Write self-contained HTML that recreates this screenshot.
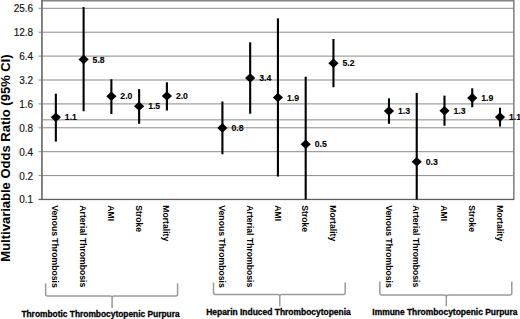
<!DOCTYPE html><html><head><meta charset="utf-8"><style>html,body{margin:0;padding:0;background:#fff;width:520px;height:319px;overflow:hidden}svg{display:block}text{font-family:"Liberation Sans",sans-serif}</style></head><body>
<svg width="520" height="319" viewBox="0 0 520 319">
<rect x="38.5" y="7.80" width="475.5" height="1" fill="#8a8a8a"/>
<rect x="38.5" y="31.70" width="475.5" height="1" fill="#8a8a8a"/>
<rect x="38.5" y="55.60" width="475.5" height="1" fill="#8a8a8a"/>
<rect x="38.5" y="79.50" width="475.5" height="1" fill="#8a8a8a"/>
<rect x="38.5" y="103.40" width="475.5" height="1" fill="#8a8a8a"/>
<rect x="38.5" y="127.30" width="475.5" height="1" fill="#8a8a8a"/>
<rect x="38.5" y="151.20" width="475.5" height="1" fill="#8a8a8a"/>
<rect x="38.5" y="175.10" width="475.5" height="1" fill="#8a8a8a"/>
<rect x="43" y="119.3" width="471" height="1.1" fill="#939393"/>
<rect x="42" y="0" width="472" height="1.5" fill="#858585"/>
<rect x="513" y="0" width="1.6" height="200" fill="#858585"/>
<rect x="41.1" y="0" width="1.7" height="200" fill="#6e6e6e"/>
<rect x="38.5" y="198.8" width="475.5" height="1.3" fill="#5e5e5e"/>
<rect x="54.80" y="93.7" width="2.1" height="47.90" fill="#000"/>
<polygon points="50.75,117.2 55.85,112.4 60.95,117.2 55.85,122.0" fill="#000"/>
<text x="64.85" y="120.30" font-size="8.7" font-weight="bold" fill="#000" stroke="#000" stroke-width="0.1">1.1</text>
<rect x="82.56" y="7.1" width="2.1" height="104.10" fill="#000"/>
<polygon points="78.51,59.4 83.61,54.6 88.71,59.4 83.61,64.2" fill="#000"/>
<text x="92.61" y="62.50" font-size="8.7" font-weight="bold" fill="#000" stroke="#000" stroke-width="0.1">5.8</text>
<rect x="110.32" y="79.2" width="2.1" height="34.80" fill="#000"/>
<polygon points="106.27,96.3 111.37,91.5 116.47,96.3 111.37,101.1" fill="#000"/>
<text x="120.37" y="99.40" font-size="8.7" font-weight="bold" fill="#000" stroke="#000" stroke-width="0.1">2.0</text>
<rect x="138.08" y="89.1" width="2.1" height="34.70" fill="#000"/>
<polygon points="134.03,106.2 139.13,101.4 144.23,106.2 139.13,111.0" fill="#000"/>
<text x="148.13" y="109.30" font-size="8.7" font-weight="bold" fill="#000" stroke="#000" stroke-width="0.1">1.5</text>
<rect x="165.84" y="82.3" width="2.1" height="28.20" fill="#000"/>
<polygon points="161.79,96.0 166.89,91.2 171.99,96.0 166.89,100.8" fill="#000"/>
<text x="175.89" y="99.10" font-size="8.7" font-weight="bold" fill="#000" stroke="#000" stroke-width="0.1">2.0</text>
<rect x="221.36" y="101.5" width="2.1" height="52.70" fill="#000"/>
<polygon points="217.31,127.9 222.41,123.10000000000001 227.51,127.9 222.41,132.70000000000002" fill="#000"/>
<text x="231.41" y="131.00" font-size="8.7" font-weight="bold" fill="#000" stroke="#000" stroke-width="0.1">0.8</text>
<rect x="249.12" y="42.3" width="2.1" height="71.40" fill="#000"/>
<polygon points="245.07,78.0 250.17,73.2 255.27,78.0 250.17,82.8" fill="#000"/>
<text x="259.17" y="81.10" font-size="8.7" font-weight="bold" fill="#000" stroke="#000" stroke-width="0.1">3.4</text>
<rect x="276.88" y="18.3" width="2.1" height="158.20" fill="#000"/>
<polygon points="272.83,97.5 277.93,92.7 283.03,97.5 277.93,102.3" fill="#000"/>
<text x="286.93" y="100.60" font-size="8.7" font-weight="bold" fill="#000" stroke="#000" stroke-width="0.1">1.9</text>
<rect x="304.64" y="76.7" width="2.1" height="122.80" fill="#000"/>
<polygon points="300.59,144.2 305.69,139.39999999999998 310.79,144.2 305.69,149.0" fill="#000"/>
<text x="314.69" y="147.30" font-size="8.7" font-weight="bold" fill="#000" stroke="#000" stroke-width="0.1">0.5</text>
<rect x="332.40" y="39.0" width="2.1" height="48.20" fill="#000"/>
<polygon points="328.35,63.2 333.45,58.400000000000006 338.55,63.2 333.45,68.0" fill="#000"/>
<text x="342.45" y="66.30" font-size="8.7" font-weight="bold" fill="#000" stroke="#000" stroke-width="0.1">5.2</text>
<rect x="387.92" y="98.3" width="2.1" height="25.50" fill="#000"/>
<polygon points="383.87,111.0 388.97,106.2 394.07,111.0 388.97,115.8" fill="#000"/>
<text x="397.97" y="114.10" font-size="8.7" font-weight="bold" fill="#000" stroke="#000" stroke-width="0.1">1.3</text>
<rect x="415.68" y="92.9" width="2.1" height="106.60" fill="#000"/>
<polygon points="411.63,161.7 416.73,156.89999999999998 421.83,161.7 416.73,166.5" fill="#000"/>
<text x="425.73" y="164.80" font-size="8.7" font-weight="bold" fill="#000" stroke="#000" stroke-width="0.1">0.3</text>
<rect x="443.44" y="95.6" width="2.1" height="30.10" fill="#000"/>
<polygon points="439.39,110.8 444.49,106.0 449.59,110.8 444.49,115.6" fill="#000"/>
<text x="453.49" y="113.90" font-size="8.7" font-weight="bold" fill="#000" stroke="#000" stroke-width="0.1">1.3</text>
<rect x="471.20" y="88.3" width="2.1" height="18.90" fill="#000"/>
<polygon points="467.15,97.9 472.25,93.10000000000001 477.35,97.9 472.25,102.7" fill="#000"/>
<text x="481.25" y="101.00" font-size="8.7" font-weight="bold" fill="#000" stroke="#000" stroke-width="0.1">1.9</text>
<rect x="498.96" y="107.7" width="2.1" height="18.80" fill="#000"/>
<polygon points="494.91,117.1 500.01,112.3 505.11,117.1 500.01,121.89999999999999" fill="#000"/>
<text x="509.01" y="120.20" font-size="8.7" font-weight="bold" fill="#000" stroke="#000" stroke-width="0.1">1.1</text>
<text x="33.2" y="12.20" font-size="10" text-anchor="end" fill="#111" stroke="#111" stroke-width="0.15">25.6</text>
<text x="33.2" y="36.10" font-size="10" text-anchor="end" fill="#111" stroke="#111" stroke-width="0.15">12.8</text>
<text x="33.2" y="59.90" font-size="10" text-anchor="end" fill="#111" stroke="#111" stroke-width="0.15">6.4</text>
<text x="33.2" y="83.80" font-size="10" text-anchor="end" fill="#111" stroke="#111" stroke-width="0.15">3.2</text>
<text x="33.2" y="107.70" font-size="10" text-anchor="end" fill="#111" stroke="#111" stroke-width="0.15">1.6</text>
<text x="33.2" y="131.80" font-size="10" text-anchor="end" fill="#111" stroke="#111" stroke-width="0.15">0.8</text>
<text x="33.2" y="155.50" font-size="10" text-anchor="end" fill="#111" stroke="#111" stroke-width="0.15">0.4</text>
<text x="33.2" y="179.60" font-size="10" text-anchor="end" fill="#111" stroke="#111" stroke-width="0.15">0.2</text>
<text x="33.2" y="203.40" font-size="10" text-anchor="end" fill="#111" stroke="#111" stroke-width="0.15">0.1</text>
<text transform="translate(9.7,158) rotate(-90)" text-anchor="middle" font-size="13" font-weight="bold" fill="#000" stroke="#000" stroke-width="0.05">Multivariable Odds Ratio (95% CI)</text>
<text transform="translate(52.45,205.3) rotate(90)" font-size="8.65" font-weight="bold" fill="#000">Venous Thrombosis</text>
<text transform="translate(80.21,205.3) rotate(90)" font-size="8.65" font-weight="bold" fill="#000">Arterial Thrombosis</text>
<text transform="translate(107.97,205.3) rotate(90)" font-size="8.65" font-weight="bold" fill="#000">AMI</text>
<text transform="translate(135.73,205.3) rotate(90)" font-size="8.65" font-weight="bold" fill="#000">Stroke</text>
<text transform="translate(163.49,205.3) rotate(90)" font-size="8.65" font-weight="bold" fill="#000">Mortality</text>
<text transform="translate(219.01,205.3) rotate(90)" font-size="8.65" font-weight="bold" fill="#000">Venous Thrombosis</text>
<text transform="translate(246.77,205.3) rotate(90)" font-size="8.65" font-weight="bold" fill="#000">Arterial Thrombosis</text>
<text transform="translate(274.53,205.3) rotate(90)" font-size="8.65" font-weight="bold" fill="#000">AMI</text>
<text transform="translate(302.29,205.3) rotate(90)" font-size="8.65" font-weight="bold" fill="#000">Stroke</text>
<text transform="translate(330.05,205.3) rotate(90)" font-size="8.65" font-weight="bold" fill="#000">Mortality</text>
<text transform="translate(385.57,205.3) rotate(90)" font-size="8.65" font-weight="bold" fill="#000">Venous Thrombosis</text>
<text transform="translate(413.33,205.3) rotate(90)" font-size="8.65" font-weight="bold" fill="#000">Arterial Thrombosis</text>
<text transform="translate(441.09,205.3) rotate(90)" font-size="8.65" font-weight="bold" fill="#000">AMI</text>
<text transform="translate(468.85,205.3) rotate(90)" font-size="8.65" font-weight="bold" fill="#000">Stroke</text>
<text transform="translate(496.61,205.3) rotate(90)" font-size="8.65" font-weight="bold" fill="#000">Mortality</text>
<path d="M45.6,283.4 V293.9 Q45.6,295.9 47.6,295.9 H110.1 Q112.1,295.9 112.1,297.9 V308 M112.1,297.9 Q112.1,295.9 114.1,295.9 H175.6 Q177.6,295.9 177.6,293.9 V283.4" fill="none" stroke="#9a9a9a" stroke-width="1.5"/>
<path d="M213.5,282.5 V292.6 Q213.5,294.6 215.5,294.6 H277.8 Q279.8,294.6 279.8,296.6 V306.2 M279.8,296.6 Q279.8,294.6 281.8,294.6 H343.2 Q345.2,294.6 345.2,292.6 V282.5" fill="none" stroke="#9a9a9a" stroke-width="1.5"/>
<path d="M379.8,281.5 V292.9 Q379.8,294.9 381.8,294.9 H444.3 Q446.3,294.9 446.3,296.9 V306.3 M446.3,296.9 Q446.3,294.9 448.3,294.9 H509.8 Q511.8,294.9 511.8,292.9 V281.5" fill="none" stroke="#9a9a9a" stroke-width="1.5"/>
<text x="21.4" y="316.6" font-size="8.8" font-weight="bold" textLength="158.2" lengthAdjust="spacingAndGlyphs" fill="#000" stroke="#000" stroke-width="0.3">Thrombotic Thrombocytopenic Purpura</text>
<text x="206.2" y="314.9" font-size="8.8" font-weight="bold" textLength="144.6" lengthAdjust="spacingAndGlyphs" fill="#000" stroke="#000" stroke-width="0.3">Heparin Induced Thrombocytopenia</text>
<text x="372.3" y="314.9" font-size="8.8" font-weight="bold" textLength="145.2" lengthAdjust="spacingAndGlyphs" fill="#000" stroke="#000" stroke-width="0.3">Immune Thrombocytopenic Purpura</text>
</svg></body></html>
